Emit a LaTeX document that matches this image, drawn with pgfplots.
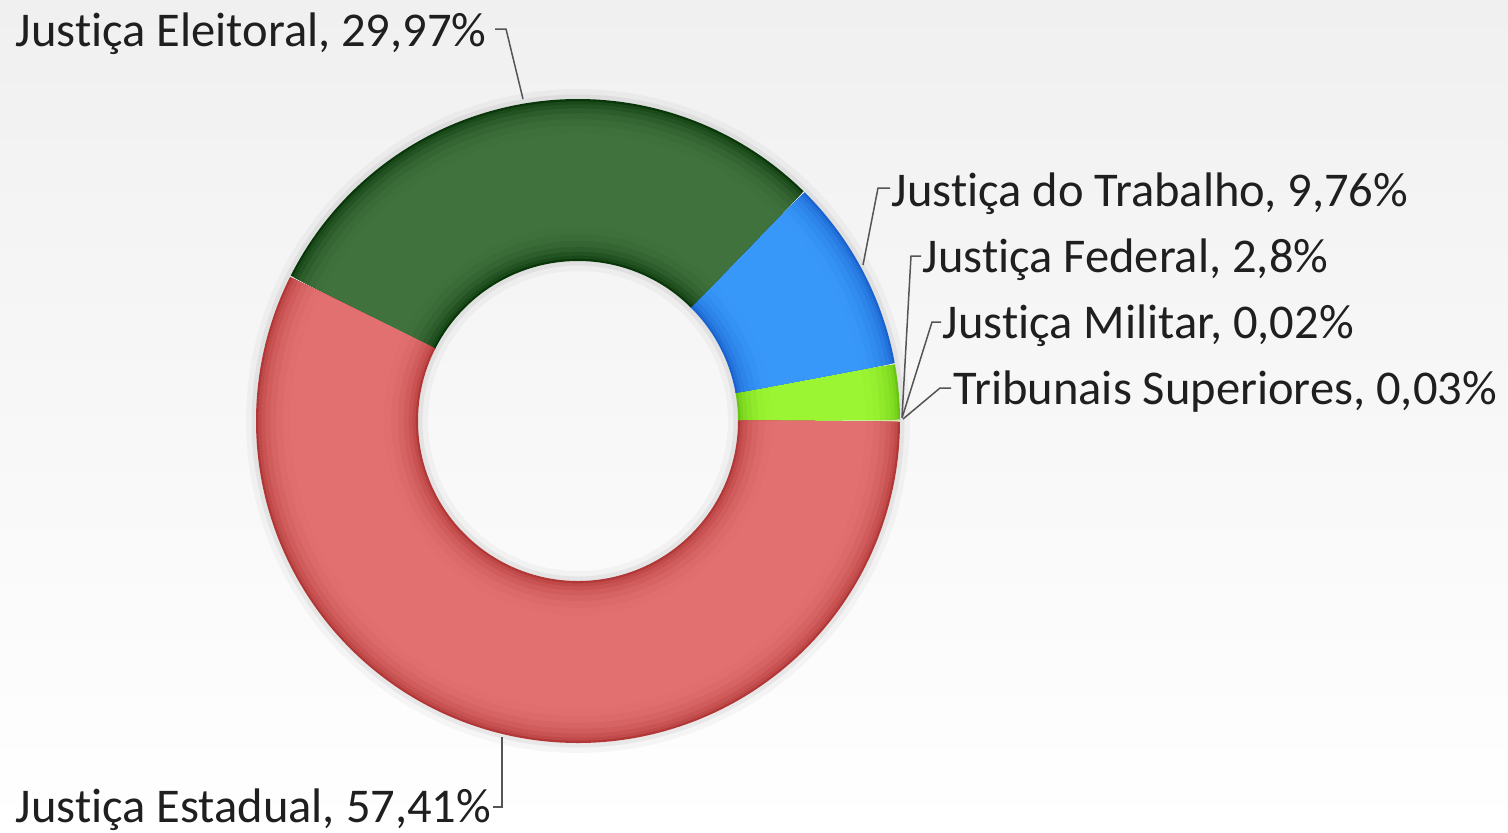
\documentclass[border=0pt]{standalone}
\usepackage{pgfplots}
\pgfplotsset{compat=1.18}
\usepackage{fontspec}
\setmainfont[Ligatures={NoCommon}]{Carlito}

\definecolor{bgTop}{RGB}{240,240,240}
\definecolor{redM}{RGB}{226,112,112}
\definecolor{redE}{RGB}{178,56,56}
\definecolor{dgM}{RGB}{64,114,62}
\definecolor{dgE}{RGB}{10,55,10}
\definecolor{blM}{RGB}{56,152,250}
\definecolor{blE}{RGB}{26,98,205}
\definecolor{lgM}{RGB}{155,245,50}
\definecolor{lgE}{RGB}{105,196,20}
\definecolor{tsM}{RGB}{240,170,150}
\definecolor{jmM}{RGB}{200,240,150}
\definecolor{leader}{RGB}{85,85,85}

% shares in percent, counter-clockwise from 3 o'clock
\def\vTS{0.03}  % Tribunais Superiores
\def\vJM{0.02}  % Justica Militar
\def\vJF{2.8}   % Justica Federal
\def\vJT{9.76}  % Justica do Trabalho
\def\vJEl{29.97}% Justica Eleitoral
\def\vJEs{57.41}% Justica Estadual

\pgfmathsetmacro\aA{0}
\pgfmathsetmacro\aB{\aA+3.6*\vTS}
\pgfmathsetmacro\aC{\aB+3.6*\vJM}
\pgfmathsetmacro\aD{\aC+3.6*\vJF}
\pgfmathsetmacro\aE{\aD+3.6*\vJT}
\pgfmathsetmacro\aF{\aE+3.6*\vJEl}
\pgfmathsetmacro\aG{360}

% ring geometry (pixel units of the axis)
\def\cx{578}\def\cy{421}\def\rm{241}

\newcommand\arcl[5]{%
  \addplot[draw=#3, line width=#4, domain=#1:#2, samples=#5, no markers, line join=round]
    ({\cx+\rm*cos(x)},{\cy-\rm*sin(x)});}
% #1 start angle, #2 end angle, #3 main colour, #4 edge colour, #5 samples
\newcommand\ringseg[5]{%
  \arcl{#1}{#2}{#4}{48.6pt}{#5}
  \arcl{#1}{#2}{#3!30!#4}{47.2pt}{#5}
  \arcl{#1}{#2}{#3!48!#4}{45.4pt}{#5}
  \arcl{#1}{#2}{#3!64!#4}{43pt}{#5}
  \arcl{#1}{#2}{#3!78!#4}{40pt}{#5}
  \arcl{#1}{#2}{#3!89!#4}{36.5pt}{#5}
  \arcl{#1}{#2}{#3!96!#4}{32.5pt}{#5}
  \arcl{#1}{#2}{#3}{28pt}{#5}
}
\newcommand\lbl{\fontsize{14.55}{17}\selectfont}

\begin{document}
\begin{tikzpicture}
\begin{axis}[
  scale only axis, width=452.4pt, height=249.6pt,
  xmin=0, xmax=1508, ymin=0, ymax=832, y dir=reverse,
  hide axis, clip=false,
]
% background
\fill[top color=bgTop, bottom color=white] (axis cs:0,0) rectangle (axis cs:1508,832);

% soft shadow around the ring
\addplot[draw=black, opacity=0.03, line width=3pt, domain=0:360, samples=181, no markers]
  ({\cx+327*cos(x)},{\cy-327*sin(x)});
\addplot[draw=black, opacity=0.05, line width=1.5pt, domain=0:360, samples=181, no markers]
  ({\cx+324*cos(x)},{\cy-324*sin(x)});
\addplot[draw=black, opacity=0.03, line width=3pt, domain=0:360, samples=181, no markers]
  ({\cx+155*cos(x)},{\cy-155*sin(x)});
\addplot[draw=black, opacity=0.05, line width=1.5pt, domain=0:360, samples=181, no markers]
  ({\cx+158*cos(x)},{\cy-158*sin(x)});

% ring segments
\ringseg{\aA}{\aB}{tsM}{tsM}{2}
\ringseg{\aB}{\aC}{jmM}{jmM}{2}
\ringseg{\aC}{\aD}{lgM}{lgE}{12}
\ringseg{\aD}{\aE}{blM}{blE}{40}
\ringseg{\aE}{\aF}{dgM}{dgE}{110}
\ringseg{\aF}{\aG}{redM}{redE}{210}

% leader lines
\draw[leader, line width=0.45pt] (axis cs:495,29) -- (axis cs:506,29) -- (axis cs:523,99);
\draw[leader, line width=0.45pt] (axis cs:493,807) -- (axis cs:502,807) -- (axis cs:502,737);
\draw[leader, line width=0.45pt] (axis cs:890,188) -- (axis cs:878,188) -- (axis cs:863,265);
\draw[leader, line width=0.45pt] (axis cs:921,256) -- (axis cs:911,256) -- (axis cs:902,417);
\draw[leader, line width=0.45pt] (axis cs:941,322) -- (axis cs:932,322) -- (axis cs:902,418);
\draw[leader, line width=0.45pt] (axis cs:951,388) -- (axis cs:940,388) -- (axis cs:903,419);

% labels
\node[anchor=base west, inner sep=0pt, text=black!88] at (axis cs:15,46) {\lbl Justiça Eleitoral, 29,97\%};
\node[anchor=base west, inner sep=0pt, text=black!88] at (axis cs:15,822) {\lbl Justiça Estadual, 57,41\%};
\node[anchor=base west, inner sep=0pt, text=black!88] at (axis cs:891,206) {\lbl Justiça do Trabalho, 9,76\%};
\node[anchor=base west, inner sep=0pt, text=black!88] at (axis cs:922,272) {\lbl Justiça Federal, 2,8\%};
\node[anchor=base west, inner sep=0pt, text=black!88] at (axis cs:942,338) {\lbl Justiça Militar, 0,02\%};
\node[anchor=base west, inner sep=0pt, text=black!88] at (axis cs:953,404) {\lbl Tribunais Superiores, 0,03\%};
\end{axis}
\end{tikzpicture}
\end{document}
